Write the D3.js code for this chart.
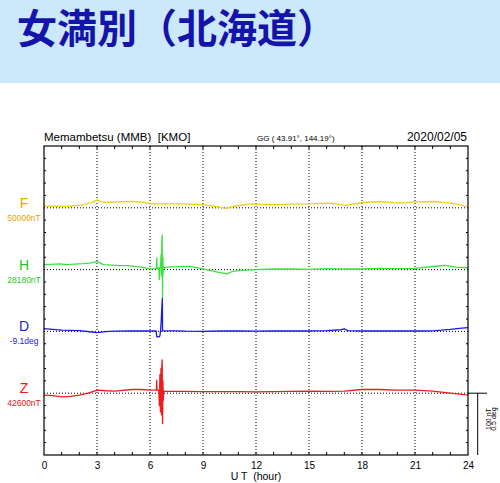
<!DOCTYPE html>
<html><head><meta charset="utf-8">
<script src="https://cdn.jsdelivr.net/npm/d3@7"></script>
<style>html,body{margin:0;padding:0;background:#fff;} svg{display:block;}</style>
</head><body><svg id="c" width="500" height="483"></svg>
<script>
// ---------- data ----------
const title = "女満別（北海道）";
const stationLabel = "Memambetsu (MMB)  [KMO]";
const coordLabel = "GG ( 43.91°, 144.19°)";
const dateLabel = "2020/02/05";
const hourTicks = [0, 3, 6, 9, 12, 15, 18, 21, 24];
const components = ["F", "H", "D", "Z"];
const baseLabels = ["50000nT", "28180nT", "-9.1deg", "42600nT"];
const scaleLabels = ["100 nT", "0.5 deg"];
const axisTitle = "U T  (hour)";

// [hour, deviation in nT]
const seriesF = [[0,3.2],[0.6,2.5],[1.3,2.1],[2.2,4.9],[2.7,8.5],[3.0,12.9],[3.35,8.6],[4.0,9.4],[5.0,10.5],[5.6,9],[6.0,6.5],[7.0,6.3],[7.9,6.5],[9.0,4.9],[9.6,2.5],[10.0,1.1],[10.25,-1.1],[10.7,2.1],[11.7,6.5],[12.8,4.9],[14.0,5.8],[15.05,6.5],[16.2,7.5],[17.05,3.8],[17.5,6],[18.05,8.6],[19.0,10.2],[20.15,7.5],[21.0,9.7],[22.0,10.2],[23.0,7.5],[23.5,5],[24.0,1.1]];
const seriesH = [[0,8.1],[0.9,9.2],[1.3,8.1],[2.2,9.7],[2.7,11],[3.0,13.4],[3.36,8.1],[4.3,6.5],[4.7,6.5],[5.5,4],[6.0,1.1],[6.3,1.5],[6.36,2],[6.38,19],[6.40,2],[6.50,3],[6.53,-16],[6.56,3],[6.60,8],[6.63,25],[6.65,-10],[6.67,45],[6.69,56],[6.71,-45],[6.73,20],[6.75,-5],[6.78,3],[6.85,3],[7.1,4.3],[8.26,5.3],[9.0,1.1],[9.77,-3.7],[10.34,-7],[10.7,-2.7],[11.1,-1.1],[12,0],[13,1],[14,1],[15,0.5],[16,1.5],[17,1],[18,1],[19,2],[20,1.5],[21,2],[22,5],[22.7,7],[23.3,4],[24,3]];
// [hour, deviation in arc-minutes]
const seriesD = [[0,1.3],[0.5,1.0],[1,0.6],[2,0.4],[2.7,-0.3],[3,-0.6],[3.5,-0.1],[4,0.1],[5,0.2],[6,0.2],[6.35,0.2],[6.38,-2.5],[6.45,-2.6],[6.52,-2.7],[6.56,-2.2],[6.60,0.5],[6.64,6],[6.67,12],[6.70,16],[6.71,0.3],[6.8,0.3],[7.5,0.3],[8,0.1],[9,0],[10,0.2],[11,0.2],[12,0.1],[13,0.2],[14,0.3],[15,0.2],[16,0.4],[16.8,0.8],[17,1.2],[17.2,0.4],[18,0.2],[19,0.2],[20,0.3],[21,0.2],[22,0.3],[22.5,0.6],[23,1.0],[23.5,1.5],[24,1.8]];
const seriesZ = [[0,-3],[0.5,-4],[1,-6],[1.5,-5],[2,-3],[2.5,0],[3,5],[3.5,4],[4,3.5],[5,6],[5.5,6],[6,5],[6.3,5],[6.36,5],[6.38,21],[6.40,5],[6.50,5],[6.53,-20],[6.56,30],[6.59,-30],[6.62,40],[6.65,-35],[6.67,45],[6.69,54],[6.71,-49],[6.73,20],[6.75,-12],[6.78,4],[6.85,3],[7,3],[8,3],[9,2.5],[10,2.5],[11,2.5],[12,2],[13,2.5],[14,3],[15,3.5],[16,3],[17,3.5],[18,6],[19,6],[20,5],[21,5],[22,3.5],[23,0],[24,-3]];

// ---------- drawing ----------
const svg = d3.select("#c");
const W = 500;
const pLeft = 44, pRight = 468, pTop = 146, pBottom = 455;
const labelColors = ["#f0a400", "#22c822", "#1a1ae6", "#ee1111"];
const lineColors = ["#eed018", "#3ee03e", "#1c1ce0", "#ee1c1c"];
const series = [seriesF, seriesH, seriesD, seriesZ];
const font = "'Liberation Sans', Arial, sans-serif";

// banner
svg.append("rect").attr("x",0).attr("y",0).attr("width",W).attr("height",83).attr("fill","#cce9fb");
svg.append("text").attr("x",17).attr("y",43).attr("font-family","'Noto Sans CJK JP', sans-serif")
  .attr("font-weight","bold").attr("font-size",40).attr("fill","#1414aa").text(title);

const x = d3.scaleLinear().domain([0,24]).range([pLeft,pRight]);
const yBand = d3.scaleLinear().domain([0,5]).range([pTop,pBottom]);
const yMinor = d3.scaleLinear().domain([0,25]).range([pTop,pBottom]);
const nTpx = d3.scaleLinear().domain([0,100]).range([0, yBand(1)-yBand(0)]);
const arcminPx = d3.scaleLinear().domain([0,30]).range([0, yBand(1)-yBand(0)]);

// header
svg.append("text").attr("x",pLeft).attr("y",141).attr("font-family",font).attr("font-size",11.5).attr("fill","#000").style("white-space","pre").text(stationLabel);
svg.append("text").attr("x",257).attr("y",141).attr("font-family",font).attr("font-size",8).attr("fill","#000").style("white-space","pre").text(coordLabel);
svg.append("text").attr("x",467).attr("y",141).attr("text-anchor","end").attr("font-family",font).attr("font-size",12).attr("fill","#000").text(dateLabel);

const g = svg.append("g");
// vertical dotted gridlines
g.selectAll(".vg").data(hourTicks.slice(1,-1)).enter().append("line")
  .attr("x1",d=>x(d)).attr("x2",d=>x(d)).attr("y1",pTop).attr("y2",pBottom)
  .attr("stroke","#000").attr("stroke-width",1).attr("stroke-dasharray","1,2");
// baselines dotted
g.selectAll(".hb").data(components).enter().append("line")
  .attr("x1",pLeft).attr("x2",pRight).attr("y1",(d,i)=>yBand(i+1)).attr("y2",(d,i)=>yBand(i+1))
  .attr("stroke","#000").attr("stroke-width",1).attr("stroke-dasharray","1,2");

// minor hour ticks top and bottom
const hours = d3.range(1,24);
g.selectAll(".tt").data(hours).enter().append("line")
  .attr("x1",d=>x(d)).attr("x2",d=>x(d)).attr("y1",pTop).attr("y2",pTop+3).attr("stroke","#000");
g.selectAll(".bt").data(hours).enter().append("line")
  .attr("x1",d=>x(d)).attr("x2",d=>x(d)).attr("y1",pBottom).attr("y2",pBottom-3).attr("stroke","#000");
// minor side ticks
const sideTicks = d3.range(1,25).filter(k=>k%5!==0);
g.selectAll(".lt").data(sideTicks).enter().append("line")
  .attr("x1",pLeft).attr("x2",pLeft+2).attr("y1",d=>yMinor(d)).attr("y2",d=>yMinor(d)).attr("stroke","#000");
g.selectAll(".rt").data(sideTicks).enter().append("line")
  .attr("x1",pRight).attr("x2",pRight-2).attr("y1",d=>yMinor(d)).attr("y2",d=>yMinor(d)).attr("stroke","#000");

// traces
series.forEach((s,i)=>{
  const base = yBand(i+1);
  const px = components[i]==="D" ? arcminPx : nTpx;
  const line = d3.line().x(d=>x(d[0])).y(d=>base - px(d[1]));
  svg.append("path").datum(s).attr("d",line).attr("fill","none")
    .attr("stroke",lineColors[i]).attr("stroke-width",1.3).attr("stroke-linejoin","round");
});

// frame
svg.append("rect").attr("x",pLeft).attr("y",pTop).attr("width",pRight-pLeft).attr("height",pBottom-pTop)
  .attr("fill","none").attr("stroke","#000").attr("stroke-width",1.2);

// component labels
components.forEach((c,i)=>{
  const base = yBand(i+1);
  svg.append("text").attr("x",24).attr("y",base).attr("text-anchor","middle").attr("font-family",font)
    .attr("font-size",14).attr("fill",labelColors[i]).text(c);
  svg.append("text").attr("x",24).attr("y",base+13).attr("text-anchor","middle").attr("font-family",font)
    .attr("font-size",8.5).attr("fill",labelColors[i]).text(baseLabels[i]);
});

// bottom axis labels
const axis = d3.axisBottom(x).tickValues(hourTicks).tickSize(0).tickPadding(7).tickFormat(d3.format("d"));
const ax = svg.append("g").attr("transform",`translate(0,${pBottom})`).call(axis);
ax.select(".domain").remove();
ax.selectAll("text").attr("font-family",font).attr("font-size",10).attr("fill","#000");
svg.append("text").attr("x",256).attr("y",480).attr("text-anchor","middle").attr("font-family",font)
  .attr("font-size",10.5).attr("fill","#000").style("white-space","pre").text(axisTitle);

// scale bar
const zb = yBand(4);
svg.append("line").attr("x1",pRight).attr("x2",487).attr("y1",zb).attr("y2",zb).attr("stroke","#000");
svg.append("line").attr("x1",477.7).attr("x2",477.7).attr("y1",zb).attr("y2",pBottom).attr("stroke","#000");
svg.append("text").attr("transform",`translate(490.5,${(zb+pBottom)/2 - 5}) rotate(-90)`).attr("text-anchor","middle")
  .attr("font-family",font).attr("font-size",7).attr("fill","#000").text(scaleLabels[0]);
svg.append("text").attr("transform",`translate(496,${(zb+pBottom)/2 - 5}) rotate(-90)`).attr("text-anchor","middle")
  .attr("font-family",font).attr("font-size",7).attr("fill","#000").text(scaleLabels[1]);
</script></body></html>
